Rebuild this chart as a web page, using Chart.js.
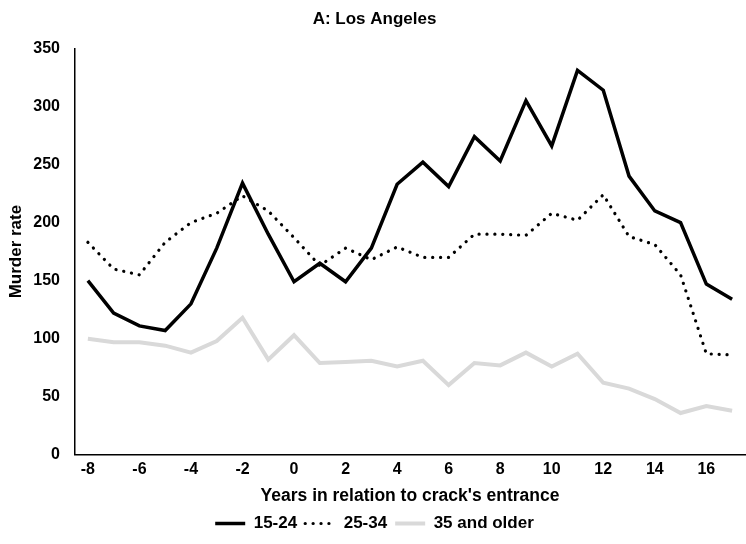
<!DOCTYPE html>
<html>
<head>
<meta charset="utf-8">
<script src="https://cdn.jsdelivr.net/npm/chart.js@4"></script>
<style>
  html, body { margin: 0; padding: 0; background: #fff; }
  #wrap { width: 746px; height: 544px; }
</style>
</head>
<body>
<div id="wrap"><canvas id="laChart" width="746" height="544"></canvas></div>
<script>
var years = [-8, -7, -6, -5, -4, -3, -2, -1, 0, 1, 2, 3, 4, 5, 6, 7, 8, 9, 10, 11, 12, 13, 14, 15, 16, 17];
var age15to24 = [150, 122, 111, 107, 130, 178, 234, 190, 149, 165, 149, 178, 233, 252, 231, 274, 253, 305, 266, 331, 314, 240, 210, 200, 147, 134];
var age25to34 = [183, 160, 155, 183, 200, 208, 223, 210, 187, 163, 178, 168, 179, 170, 170, 190, 190, 189, 208, 202, 224, 188, 181, 155, 87, 86];
var age35plus = [100, 97, 97, 94, 88, 98, 118, 82, 103, 79, 80, 81, 76, 81, 60, 79, 77, 88, 76, 87, 62, 57, 48, 36, 42, 38];

var fontFamily = "'Liberation Sans', Arial, sans-serif";

document.addEventListener("DOMContentLoaded", function() {
    var ctx = document.getElementById('laChart').getContext('2d');
    new Chart(ctx, {
        type: 'line',
        data: {
            labels: years,
            datasets: [
                {
                    label: '15-24',
                    data: age15to24,
                    borderColor: '#000000',
                    backgroundColor: '#000000',
                    borderWidth: 3.5,
                    pointRadius: 0,
                    tension: 0
                },
                {
                    label: '25-34',
                    data: age25to34,
                    borderColor: '#000000',
                    backgroundColor: '#000000',
                    borderWidth: 3.2,
                    borderDash: [0.1, 7.8],
                    borderCapStyle: 'round',
                    pointRadius: 0,
                    tension: 0
                },
                {
                    label: '35 and older',
                    data: age35plus,
                    borderColor: '#d9d9d9',
                    backgroundColor: '#d9d9d9',
                    borderWidth: 4,
                    pointRadius: 0,
                    tension: 0
                }
            ]
        },
        options: {
            responsive: false,
            animation: false,
            layout: { padding: { top: 4, right: 1, bottom: 2, left: 4 } },
            plugins: {
                title: {
                    display: true,
                    text: 'A: Los Angeles',
                    color: '#000',
                    font: { size: 17, weight: 'bold', family: fontFamily },
                    padding: { top: 5, bottom: 19 }
                },
                legend: {
                    position: 'bottom',
                    labels: {
                        color: '#000',
                        font: { size: 17, weight: 'bold', family: fontFamily },
                        usePointStyle: true,
                        pointStyle: 'line',
                        pointStyleWidth: 30,
                        boxHeight: 8,
                        padding: 8,
                        generateLabels: function(chart) {
                            var items = Chart.defaults.plugins.legend.labels.generateLabels(chart);
                            items.forEach(function(item) {
                                var ds = chart.data.datasets[item.datasetIndex];
                                item.lineDash = ds.borderDash || [];
                                item.lineCap = ds.borderCapStyle || 'butt';
                                item.lineWidth = ds.borderWidth;
                                item.strokeStyle = ds.borderColor;
                            });
                            return items;
                        }
                    }
                },
                tooltip: { enabled: false }
            },
            scales: {
                x: {
                    offset: true,
                    grid: { display: false, drawTicks: false },
                    border: { display: true, color: '#000', width: 1.5 },
                    ticks: {
                        color: '#000',
                        font: { size: 16, weight: 'bold', family: fontFamily },
                        autoSkip: false,
                        maxRotation: 0,
                        padding: 5,
                        callback: function(value, index) {
                            return index % 2 === 0 ? years[index] : '';
                        }
                    },
                    title: {
                        display: true,
                        text: "Years in relation to crack's entrance",
                        color: '#000',
                        font: { size: 17.5, weight: 'bold', family: fontFamily },
                        padding: { top: 2, bottom: 0 }
                    }
                },
                y: {
                    min: 0,
                    max: 350,
                    grid: { display: false, drawTicks: false },
                    border: { display: true, color: '#000', width: 1.5 },
                    afterFit: function(scale) {
                        scale.width = 71;
                    },
                    ticks: {
                        stepSize: 50,
                        color: '#000',
                        font: { size: 16, weight: 'bold', family: fontFamily },
                        padding: 15
                    },
                    title: {
                        display: true,
                        text: 'Murder rate',
                        color: '#000',
                        font: { size: 17, weight: 'bold', family: fontFamily },
                        padding: { top: 2, bottom: 8 }
                    }
                }
            }
        }
    });
});
</script>
</body>
</html>
